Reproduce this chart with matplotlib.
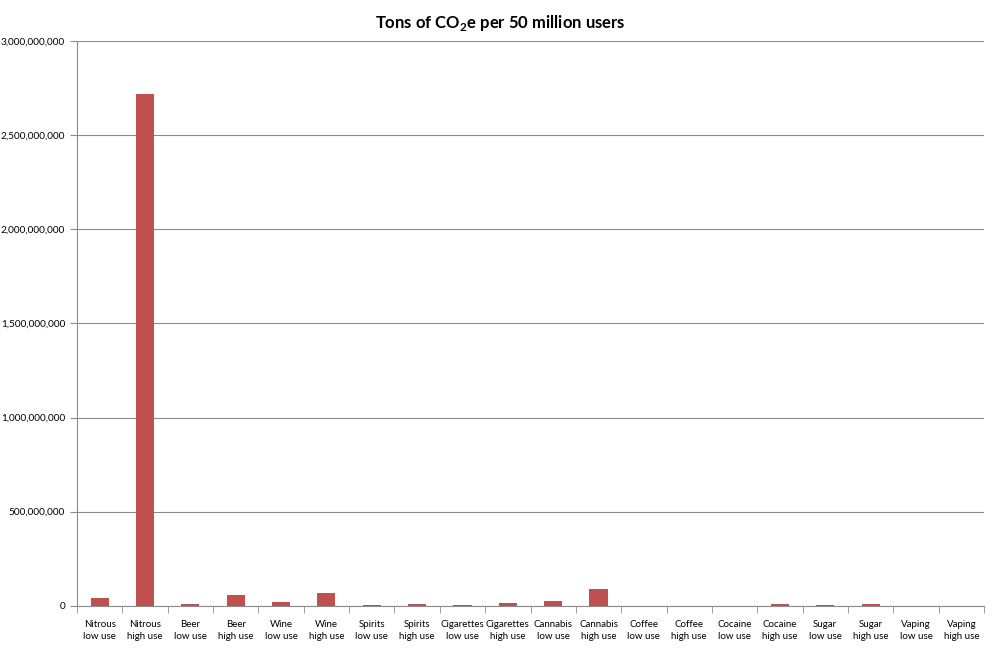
import matplotlib.pyplot as plt
import numpy as np
from matplotlib.ticker import FuncFormatter

plt.rcParams['font.family'] = ['Lato', 'DejaVu Sans']
plt.rcParams['mathtext.fontset'] = 'custom'
plt.rcParams['mathtext.rm'] = 'Lato:bold'
plt.rcParams['mathtext.bf'] = 'Lato:bold'

# categories as shown under each bar
substances = ['Nitrous', 'Nitrous', 'Beer', 'Beer', 'Wine', 'Wine', 'Spirits', 'Spirits',
              'Cigarettes', 'Cigarettes', 'Cannabis', 'Cannabis', 'Coffee', 'Coffee',
              'Cocaine', 'Cocaine', 'Sugar', 'Sugar', 'Vaping', 'Vaping']
use_levels = ['low use', 'high use'] * 10

# tons of CO2e per 50 million users
tons = [42e6, 2720e6, 12e6, 55e6, 20e6, 67e6, 4e6, 9e6, 5e6, 16e6,
        25e6, 88e6, 0.5e6, 0.5e6, 0.3e6, 9e6, 4e6, 9e6, 0.3e6, 0.3e6]

yticks = [0, 500e6, 1000e6, 1500e6, 2000e6, 2500e6, 3000e6]

labels = [s + '\n' + u for s, u in zip(substances, use_levels)]
x = np.arange(len(tons))

fig = plt.figure(figsize=(10, 6.5), dpi=100)
ax = fig.add_axes([0.077, 0.068, 0.907, 0.869])

ax.bar(x, tons, width=0.4, color='#C0504D', zorder=3)

ax.set_ylim(0, 3e9)
ax.set_xlim(-0.5, len(tons) - 0.5)
ax.set_yticks(yticks)
ax.yaxis.set_major_formatter(FuncFormatter(lambda v, p: '{:,.0f}'.format(v)))
ax.grid(axis='y', color='#8C8C8C', linewidth=0.8, zorder=0)

ax.set_xticks(x)
ax.set_xticklabels(labels, fontsize=7.0, linespacing=1.5)
ax.tick_params(axis='x', length=0, pad=10)
# category separator ticks
ax.set_xticks(np.arange(-0.5, len(tons)), minor=True)
ax.tick_params(axis='x', which='minor', length=5, color='#8C8C8C', direction='out')
ax.tick_params(axis='y', labelsize=7.2, length=5, color='#8C8C8C', direction='out')

for side in ['top', 'right']:
    ax.spines[side].set_visible(False)
for side in ['left', 'bottom']:
    ax.spines[side].set_color('#8C8C8C')

fig.text(0.5, 0.965, 'Tons of CO$_{2}$e per 50 million users', ha='center',
         va='center', fontsize=12, fontweight='bold')

fig.savefig('out.png')
